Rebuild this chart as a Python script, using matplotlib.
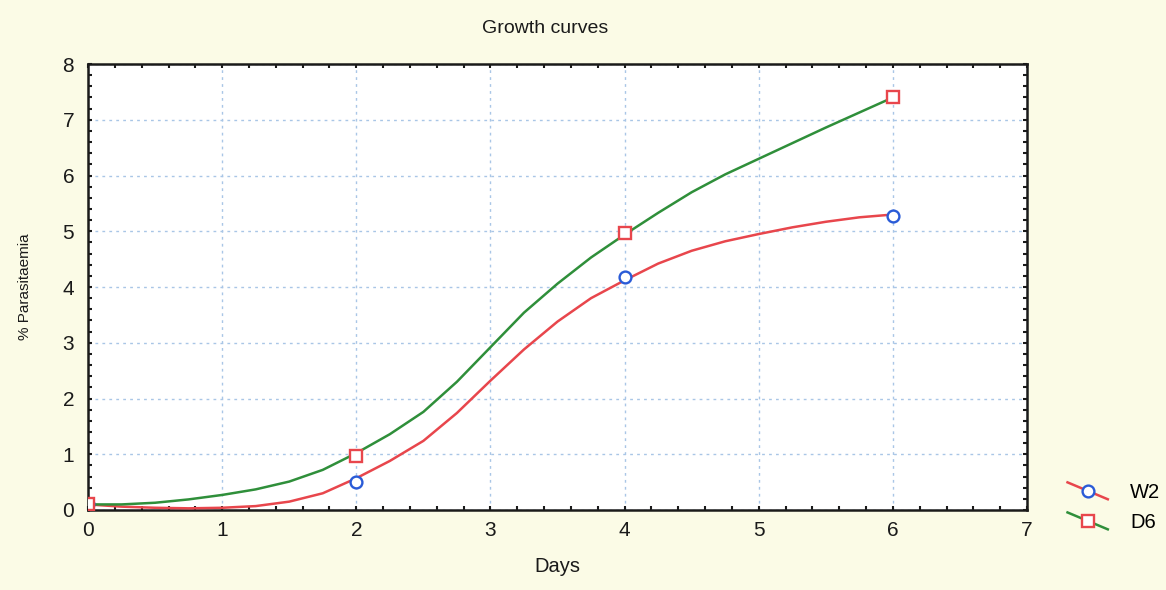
import numpy as np
import matplotlib.pyplot as plt
from matplotlib.lines import Line2D
from matplotlib.legend_handler import HandlerLine2D
from matplotlib.ticker import MultipleLocator

# measured points
days = [0, 2, 4, 6]
w2 = [0.1, 0.5, 4.18, 5.28]
d6 = [0.1, 0.97, 4.97, 7.4]

# fitted curves, every quarter day
curve_days = [0, 0.25, 0.5, 0.75, 1, 1.25, 1.5, 1.75, 2, 2.25, 2.5, 2.75, 3,
              3.25, 3.5, 3.75, 4, 4.25, 4.5, 4.75, 5, 5.25, 5.5, 5.75, 6]
w2_curve = [0.1, 0.06, 0.04, 0.03, 0.04, 0.07, 0.15, 0.3, 0.57, 0.88, 1.24,
            1.74, 2.32, 2.88, 3.38, 3.8, 4.12, 4.42, 4.65, 4.82, 4.95, 5.07,
            5.17, 5.25, 5.3]
d6_curve = [0.1, 0.1, 0.13, 0.19, 0.27, 0.37, 0.51, 0.72, 1.02, 1.36, 1.76,
            2.3, 2.92, 3.54, 4.06, 4.53, 4.94, 5.33, 5.7, 6.02, 6.3, 6.58,
            6.86, 7.13, 7.4]

RED = '#e8464c'
GREEN = '#2f8f3a'
BLUE = '#2a5bd7'
INK = '#1a1a1a'


class SlantHandler(HandlerLine2D):
    # legend key drawn as a short slanted segment with the marker in the middle
    def create_artists(self, legend, orig_handle, xdescent, ydescent,
                       width, height, fontsize, trans):
        x0, x1 = -xdescent, -xdescent + width
        y0, y1 = -ydescent + height * 1.1, -ydescent - height * 0.1
        seg = Line2D([x0, x1], [y0, y1])
        self.update_prop(seg, orig_handle, legend)
        seg.set_marker('None')
        mk = Line2D([(x0 + x1) / 2], [(y0 + y1) / 2])
        self.update_prop(mk, orig_handle, legend)
        mk.set_linestyle('None')
        seg.set_transform(trans)
        mk.set_transform(trans)
        return [seg, mk]


plt.rcParams['font.family'] = ['Liberation Sans', 'DejaVu Sans']

fig = plt.figure(figsize=(11.66, 5.90), dpi=100, facecolor='#fbfbe6')
ax = fig.add_axes([0.0755, 0.1356, 0.8053, 0.7559])
ax.set_facecolor('white')

ax.plot(curve_days, w2_curve, color=RED, lw=1.8, zorder=3)
ax.plot(curve_days, d6_curve, color=GREEN, lw=1.8, zorder=3)
ax.plot(days, w2, ls='None', marker='o', ms=8.5, mfc='white', mec=BLUE,
        mew=1.7, zorder=4)
ax.plot(days, d6, ls='None', marker='s', ms=8.5, mfc='white', mec=RED,
        mew=1.7, zorder=5)

ax.set_xlim(0, 7)
ax.set_ylim(0, 8)
ax.xaxis.set_major_locator(MultipleLocator(1))
ax.yaxis.set_major_locator(MultipleLocator(1))
ax.xaxis.set_minor_locator(MultipleLocator(0.2))
ax.yaxis.set_minor_locator(MultipleLocator(0.2))
ax.tick_params(which='both', direction='in', top=True, right=True,
               length=3, width=1.5, colors=INK)
ax.tick_params(axis='y', which='major', pad=10, labelsize=15)
ax.tick_params(axis='x', which='major', pad=8, labelsize=15)
for sp in ax.spines.values():
    sp.set_linewidth(1.8)
    sp.set_color(INK)
ax.grid(True, which='major', color='#a9c6e6', ls=(0, (2, 3)), lw=1)
ax.set_axisbelow(True)

ax.set_title('Growth curves', fontsize=14, x=0.487, pad=22, color=INK)
ax.set_xlabel('Days', fontsize=14.5, labelpad=12, color=INK)
ax.set_ylabel('% Parasitaemia', fontsize=11, labelpad=22, color=INK)

h_w2 = Line2D([], [], color=RED, lw=1.8, marker='o', ms=8.5, mfc='white',
              mec=BLUE, mew=1.7)
h_d6 = Line2D([], [], color=GREEN, lw=1.8, marker='s', ms=8.5, mfc='white',
              mec=RED, mew=1.7)
fig.legend([h_w2, h_d6], ['W2', 'D6'], loc='center left',
           bbox_to_anchor=(0.9, 0.14), frameon=False, fontsize=14.5,
           handlelength=2.0, handletextpad=1.1, labelspacing=0.55,
           handler_map={Line2D: SlantHandler()})

fig.savefig('out.png', dpi=100, facecolor=fig.get_facecolor())
